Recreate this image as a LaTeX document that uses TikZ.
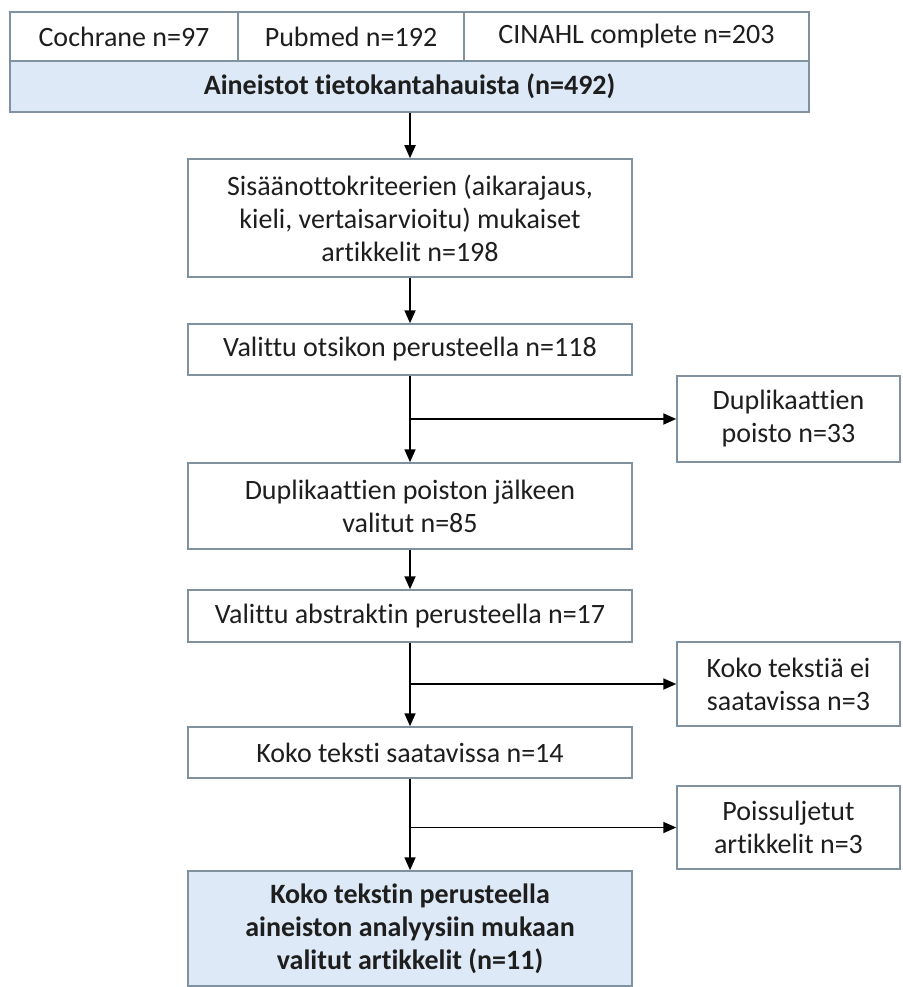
\documentclass[tikz,border=0pt]{standalone}
\usepackage{fontspec}
\setmainfont{Carlito}[Ligatures={NoCommon}]
\usetikzlibrary{arrows.meta}
\definecolor{bordc}{RGB}{128,146,160}
\definecolor{fillc}{RGB}{221,233,246}
\definecolor{txtc}{RGB}{30,30,30}
\tikzset{
  box/.style={draw=bordc, line width=1.5pt, fill=white, rectangle, inner sep=0pt,
    text=txtc, align=center, font=\fontsize{28}{33}\selectfont},
  bluebox/.style={box, fill=fillc, font=\fontsize{28}{33}\selectfont\bfseries},
  conn/.style={line width=1.8pt, draw=black, -{Triangle[length=13pt,width=11pt]}}
}
\begin{document}
\begin{tikzpicture}[x=1pt,y=-1pt]
\useasboundingbox (0,0) rectangle (902,987);
\fill[white] (0,0) rectangle (902,987);
% top table
\node[box, minimum width=228, minimum height=49] (c1) at (124,36.5) {Cochrane n=97};
\node[box, minimum width=226, minimum height=49] (c2) at (351,36.5) {Pubmed n=192};
\node[box, minimum width=345, minimum height=49] (c3) at (636.5,36.5) {CINAHL complete n=203};
\node[bluebox, minimum width=799, minimum height=51] (a) at (409.5,86.5) {Aineistot tietokantahauista (n=492)};
% main column
\node[box, minimum width=444, minimum height=118] (b2) at (410,218) {Sisäänottokriteerien (aikarajaus,\\kieli, vertaisarvioitu) mukaiset\\artikkelit n=198};
\node[box, minimum width=444, minimum height=51] (b3) at (410,349.5) {Valittu otsikon perusteella n=118};
\node[box, minimum width=444, minimum height=86] (b4) at (410,506) {Duplikaattien poiston jälkeen\\valitut n=85};
\node[box, minimum width=444, minimum height=52] (b5) at (410,616) {Valittu abstraktin perusteella n=17};
\node[box, minimum width=444, minimum height=51] (b6) at (410,752.5) {Koko teksti saatavissa n=14};
\node[bluebox, minimum width=444, minimum height=115] (b7) at (410,928.5) {Koko tekstin perusteella\\aineiston analyysiin mukaan\\valitut artikkelit (n=11)};
% side boxes
\node[box, minimum width=223, minimum height=86] (s1) at (788.5,419) {Duplikaattien\\poisto n=33};
\node[box, minimum width=223, minimum height=84] (s2) at (788.5,684) {Koko tekstiä ei\\saatavissa n=3};
\node[box, minimum width=223, minimum height=83] (s3) at (788.5,827.5) {Poissuljetut\\artikkelit n=3};
% connectors
\draw[conn] (a.south -| b2.north) -- (b2.north);
\draw[conn] (b2.south) -- (b3.north);
\draw[conn] (b3.south) -- (b4.north);
\draw[conn] (b3.south |- s1.west) -- (s1.west);
\draw[conn] (b4.south) -- (b5.north);
\draw[conn] (b5.south) -- (b6.north);
\draw[conn] (b5.south |- s2.west) -- (s2.west);
\draw[conn] (b6.south) -- (b7.north);
\draw[conn] (b6.south |- s3.west) -- (s3.west);
\end{tikzpicture}
\end{document}
